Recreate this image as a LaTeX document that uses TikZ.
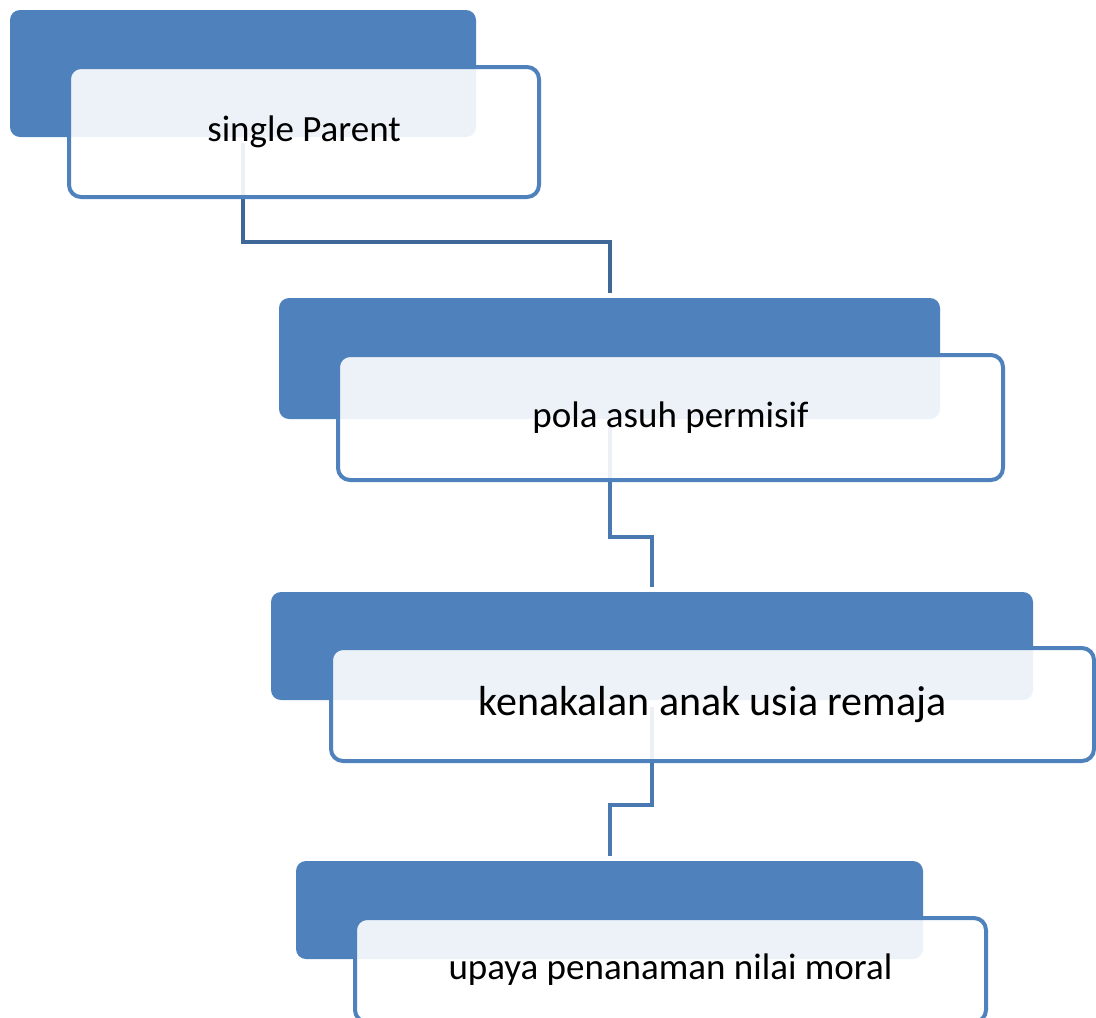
\documentclass[tikz,border=0pt]{standalone}
\usepackage{fontspec}
\setmainfont{Carlito}
\usetikzlibrary{calc}
\definecolor{boxblue}{HTML}{4F81BD}
\definecolor{connA}{HTML}{3F6797}
\definecolor{connB}{HTML}{4A78B0}
\tikzset{
  darkbox/.style={rectangle, rounded corners=10pt, fill=boxblue, draw=none, inner sep=0pt},
  lightbox/.style={rectangle, rounded corners=12pt, draw=boxblue, line width=4pt,
    fill=white, fill opacity=0.9, text opacity=1, inner sep=0pt, font=\fontsize{37}{44}\selectfont},
  conn/.style={line width=4pt, line join=miter}
}
\begin{document}
\begin{tikzpicture}[x=1pt,y=-1pt]
\useasboundingbox (0,0) rectangle (1096,1018);
% dark boxes
\node[darkbox, minimum width=466pt, minimum height=127pt] (d1) at (243,73.5) {};
\node[darkbox, minimum width=661pt, minimum height=121pt] (d2) at (609.5,358.5) {};
\node[darkbox, minimum width=762pt, minimum height=108pt] (d3) at (652,646) {};
\node[darkbox, minimum width=627pt, minimum height=98pt] (d4) at (609.5,910) {};
% connectors
\draw[conn, connA] ([yshift=-6pt]d1.south) -- ($(d1.south)+(0,105)$) -| ([yshift=5pt]d2.north);
\draw[conn, connB] ([yshift=-8pt]d2.south) -- ($(d2.south)+(0,118)$) -| ([yshift=5pt]d3.north);
\draw[conn, connB] ([yshift=-7pt]d3.south) -- ($(d3.south)+(0,105)$) -| ([yshift=5pt]d4.north);
% light boxes with text
\node[lightbox, minimum width=470pt, minimum height=130pt] (l1) at (304,132) {\raisebox{-2pt}{single Parent}};
\node[lightbox, minimum width=665pt, minimum height=125pt] (l2) at (670.5,417.5) {\raisebox{-2pt}{pola asuh permisif}};
\node[lightbox, minimum width=763pt, minimum height=113pt, font=\fontsize{42}{50}\selectfont] (l3) at (712.5,704.5) {kenakalan anak usia remaja};
\node[lightbox, minimum width=631pt, minimum height=104pt] (l4) at (670.5,970) {\raisebox{-1pt}{upaya penanaman nilai moral}};
\end{tikzpicture}
\end{document}
